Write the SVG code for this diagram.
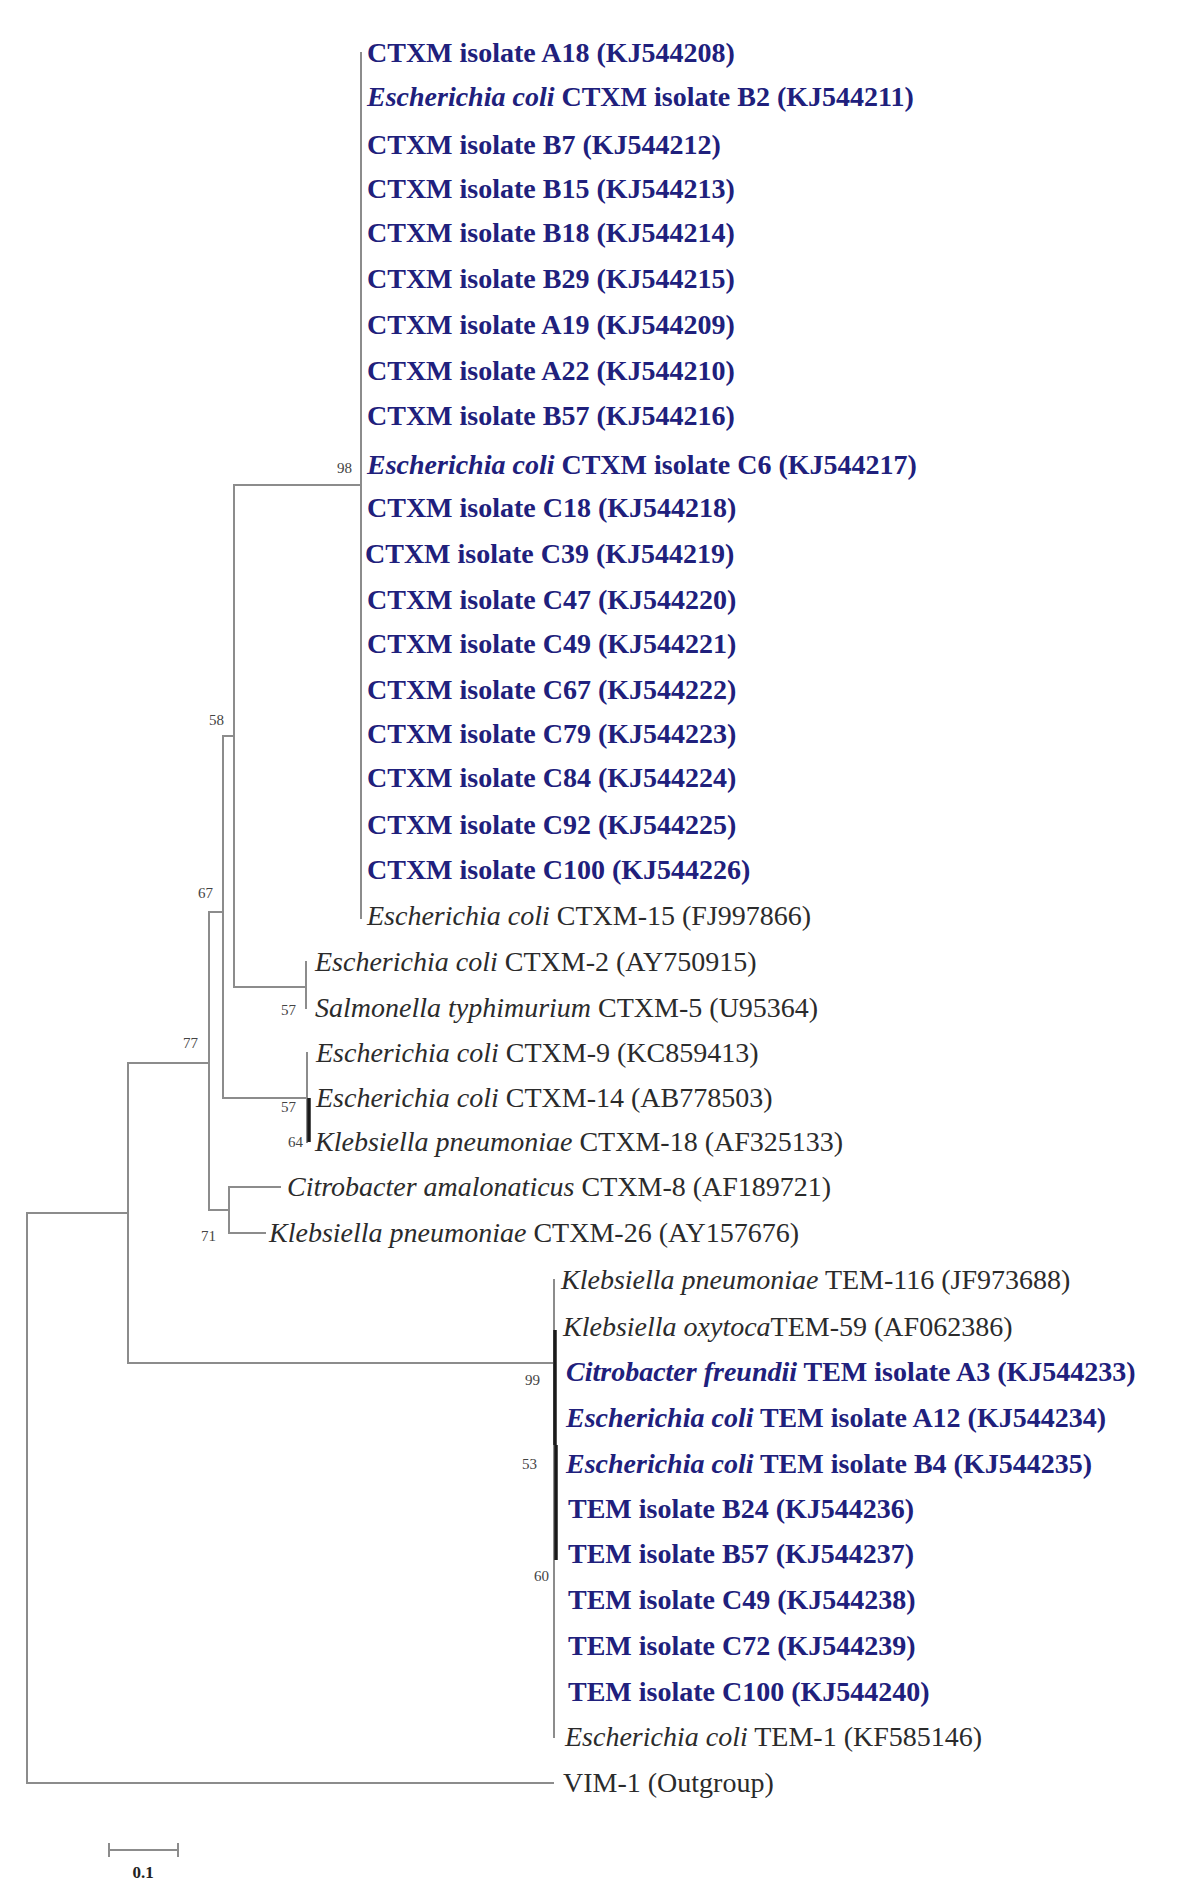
<svg xmlns="http://www.w3.org/2000/svg" width="1196" height="1896" viewBox="0 0 1196 1896">
<style>
.br{fill:none;stroke:#8c8c8c;stroke-width:2;stroke-linecap:square}
.tk{fill:none;stroke:#1a1a1a;stroke-width:3.5}
text{font-family:"Liberation Serif","Times New Roman",serif;font-size:28px}
.b{fill:#20207c;font-weight:bold}
.k{fill:#2b2b2b}
.i{font-style:italic}
.bs{font-size:15px;fill:#444}
.sc{font-size:17px;fill:#222;font-weight:bold}
</style>
<rect width="1196" height="1896" fill="#fff"/>
<g id="connectors">
<path class="br" d="M361 53V918"/>
<path class="br" d="M234 485H361"/>
<path class="br" d="M234 485V987H306"/>
<path class="br" d="M306 962V1008"/>
<path class="br" d="M223 736H234"/>
<path class="br" d="M223 736V1098H307"/>
<path class="br" d="M307 1053V1142"/>
<path class="tk" d="M309 1098V1142"/>
<path class="br" d="M209 912H223"/>
<path class="br" d="M209 912V1210H229"/>
<path class="br" d="M280 1187H229V1233H265"/>
<path class="br" d="M128 1063H209"/>
<path class="br" d="M128 1063V1363H554"/>
<path class="br" d="M27 1213H128"/>
<path class="br" d="M27 1213V1783H553"/>
<path class="br" d="M554 1280V1737"/>
<path class="tk" d="M555 1330V1445"/>
<path class="tk" d="M556 1445V1560"/>
</g>
<g id="bootstrap">
<text class="bs" x="352" y="473" text-anchor="end">98</text>
<text class="bs" x="224" y="725" text-anchor="end">58</text>
<text class="bs" x="213" y="898" text-anchor="end">67</text>
<text class="bs" x="198" y="1048" text-anchor="end">77</text>
<text class="bs" x="296" y="1015" text-anchor="end">57</text>
<text class="bs" x="296" y="1112" text-anchor="end">57</text>
<text class="bs" x="303" y="1147" text-anchor="end">64</text>
<text class="bs" x="216" y="1241" text-anchor="end">71</text>
<text class="bs" x="540" y="1385" text-anchor="end">99</text>
<text class="bs" x="537" y="1469" text-anchor="end">53</text>
<text class="bs" x="549" y="1581" text-anchor="end">60</text>
</g>
<g id="leaf-A18"><text class="b" x="367" y="62">CTXM isolate A18 (KJ544208)</text></g>
<g id="leaf-B2"><text class="b" x="367" y="106"><tspan class="i">Escherichia coli</tspan> CTXM isolate B2 (KJ544211)</text></g>
<g id="leaf-B7"><text class="b" x="367" y="154">CTXM isolate B7 (KJ544212)</text></g>
<g id="leaf-B15"><text class="b" x="367" y="198">CTXM isolate B15 (KJ544213)</text></g>
<g id="leaf-B18"><text class="b" x="367" y="242">CTXM isolate B18 (KJ544214)</text></g>
<g id="leaf-B29"><text class="b" x="367" y="288">CTXM isolate B29 (KJ544215)</text></g>
<g id="leaf-A19"><text class="b" x="367" y="334">CTXM isolate A19 (KJ544209)</text></g>
<g id="leaf-A22"><text class="b" x="367" y="380">CTXM isolate A22 (KJ544210)</text></g>
<g id="leaf-B57c"><text class="b" x="367" y="425">CTXM isolate B57 (KJ544216)</text></g>
<g id="leaf-C6"><text class="b" x="367" y="474"><tspan class="i">Escherichia coli</tspan> CTXM isolate C6 (KJ544217)</text></g>
<g id="leaf-C18"><text class="b" x="367" y="517">CTXM isolate C18 (KJ544218)</text></g>
<g id="leaf-C39"><text class="b" x="365" y="563">CTXM isolate C39 (KJ544219)</text></g>
<g id="leaf-C47"><text class="b" x="367" y="609">CTXM isolate C47 (KJ544220)</text></g>
<g id="leaf-C49c"><text class="b" x="367" y="653">CTXM isolate C49 (KJ544221)</text></g>
<g id="leaf-C67"><text class="b" x="367" y="699">CTXM isolate C67 (KJ544222)</text></g>
<g id="leaf-C79"><text class="b" x="367" y="743">CTXM isolate C79 (KJ544223)</text></g>
<g id="leaf-C84"><text class="b" x="367" y="787">CTXM isolate C84 (KJ544224)</text></g>
<g id="leaf-C92"><text class="b" x="367" y="834">CTXM isolate C92 (KJ544225)</text></g>
<g id="leaf-C100c"><text class="b" x="367" y="879">CTXM isolate C100 (KJ544226)</text></g>
<g id="leaf-CTXM15"><text class="k" x="367" y="925"><tspan class="i">Escherichia coli</tspan> CTXM-15 (FJ997866)</text></g>
<g id="leaf-CTXM2"><text class="k" x="315" y="971"><tspan class="i">Escherichia coli</tspan> CTXM-2 (AY750915)</text></g>
<g id="leaf-CTXM5"><text class="k" x="315" y="1017"><tspan class="i">Salmonella typhimurium</tspan> CTXM-5 (U95364)</text></g>
<g id="leaf-CTXM9"><text class="k" x="316" y="1062"><tspan class="i">Escherichia coli</tspan> CTXM-9 (KC859413)</text></g>
<g id="leaf-CTXM14"><text class="k" x="316" y="1107"><tspan class="i">Escherichia coli</tspan> CTXM-14 (AB778503)</text></g>
<g id="leaf-CTXM18"><text class="k" x="315" y="1151"><tspan class="i">Klebsiella pneumoniae</tspan> CTXM-18 (AF325133)</text></g>
<g id="leaf-CTXM8"><text class="k" x="287" y="1196"><tspan class="i">Citrobacter amalonaticus</tspan> CTXM-8 (AF189721)</text></g>
<g id="leaf-CTXM26"><text class="k" x="269" y="1242"><tspan class="i">Klebsiella pneumoniae</tspan> CTXM-26 (AY157676)</text></g>
<g id="leaf-TEM116"><text class="k" x="561" y="1289"><tspan class="i">Klebsiella pneumoniae</tspan> TEM-116 (JF973688)</text></g>
<g id="leaf-TEM59"><text class="k" x="563" y="1336"><tspan class="i">Klebsiella oxytoca</tspan>TEM-59 (AF062386)</text></g>
<g id="leaf-A3"><text class="b" x="566" y="1381"><tspan class="i">Citrobacter freundii</tspan> TEM isolate A3 (KJ544233)</text></g>
<g id="leaf-A12"><text class="b" x="566" y="1427"><tspan class="i">Escherichia coli</tspan> TEM isolate A12 (KJ544234)</text></g>
<g id="leaf-B4"><text class="b" x="566" y="1473"><tspan class="i">Escherichia coli</tspan> TEM isolate B4 (KJ544235)</text></g>
<g id="leaf-B24"><text class="b" x="568" y="1518">TEM isolate B24 (KJ544236)</text></g>
<g id="leaf-B57t"><text class="b" x="568" y="1563">TEM isolate B57 (KJ544237)</text></g>
<g id="leaf-C49t"><text class="b" x="568" y="1609">TEM isolate C49 (KJ544238)</text></g>
<g id="leaf-C72"><text class="b" x="568" y="1655">TEM isolate C72 (KJ544239)</text></g>
<g id="leaf-C100t"><text class="b" x="568" y="1701">TEM isolate C100 (KJ544240)</text></g>
<g id="leaf-TEM1"><text class="k" x="565" y="1746"><tspan class="i">Escherichia coli</tspan> TEM-1 (KF585146)</text></g>
<g id="leaf-VIM1"><text class="k" x="563" y="1792">VIM-1 (Outgroup)</text></g>
<g id="scale">
<path class="br" d="M109 1850H178M109 1844V1856M178 1844V1856"/>
<text class="sc" x="143" y="1878" text-anchor="middle">0.1</text>
</g>
</svg>
